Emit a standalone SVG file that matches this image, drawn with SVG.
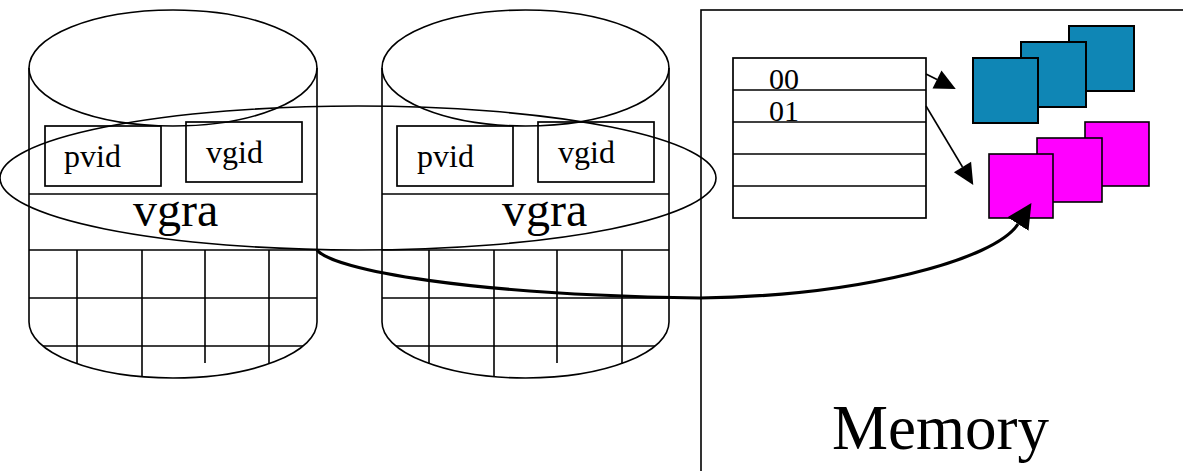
<svg xmlns="http://www.w3.org/2000/svg" width="1183" height="471" viewBox="0 0 1183 471">
  <style>
    .ln { fill: none; stroke: #000; stroke-width: 1.6; }
    .box { fill: none; stroke: #000; stroke-width: 1.7; }
    .txt { font-family: "Liberation Serif", "Times New Roman", serif; fill: #000; }
    .sm { font-size: 32px; }
    .num { font-size: 30px; }
    .lg { font-size: 48px; }
    .blue { fill: #0f86b5; stroke: #000; stroke-width: 2; }
    .pink { fill: #ff00ff; stroke: #000; stroke-width: 1.6; }
    .thick { fill: none; stroke: #000; stroke-width: 3.2; }
  </style>
  <defs>
    <marker id="head" markerUnits="userSpaceOnUse" markerWidth="24" markerHeight="22" viewBox="0 -11 22 22" refX="0" refY="0" orient="auto">
      <path d="M0,-10 L21,0 L0,10 z" fill="#000"/>
    </marker>
    <marker id="headBig" markerUnits="userSpaceOnUse" markerWidth="26" markerHeight="26" viewBox="0 -12 24 24" refX="0" refY="0" orient="auto">
      <path d="M0,-11.5 L23,0 L0,11.5 z" fill="#000"/>
    </marker>
  </defs>

  <!-- Memory area -->
  <g id="memory">
    <rect x="701" y="10" width="520" height="500" class="ln"/>
    <text x="832" y="449" class="txt" font-size="63">Memory</text>
  </g>

  <!-- Physical volume 1 -->
  <g id="disk1">
    <path class="ln" d="M29,68 L29,322 A144,56 0 0 0 317,322 L317,68"/>
    <ellipse class="ln" cx="173" cy="68" rx="144" ry="58"/>
    <line class="ln" x1="29" y1="194" x2="317" y2="194"/>
    <line class="ln" x1="29" y1="250" x2="317" y2="250"/>
    <line class="ln" x1="29" y1="298" x2="317" y2="298"/>
    <line class="ln" x1="43" y1="346" x2="303" y2="346"/>
    <line class="ln" x1="77" y1="250" x2="77" y2="364"/>
    <line class="ln" x1="142" y1="250" x2="142" y2="377"/>
    <line class="ln" x1="205" y1="250" x2="205" y2="363"/>
    <line class="ln" x1="269" y1="250" x2="269" y2="364"/>
    <rect class="box" x="45" y="126" width="116" height="60"/>
    <rect class="box" x="186" y="122" width="116" height="60"/>
    <text x="64" y="167" class="txt sm">pvid</text>
    <text x="206" y="163" class="txt sm">vgid</text>
    <text x="133" y="226" class="txt lg">vgra</text>
  </g>

  <!-- Physical volume 2 -->
  <g id="disk2">
    <path class="ln" d="M382,68 L382,322 A143.5,56 0 0 0 669,322 L669,68"/>
    <ellipse class="ln" cx="525.5" cy="68" rx="143.5" ry="58"/>
    <line class="ln" x1="382" y1="194" x2="669" y2="194"/>
    <line class="ln" x1="382" y1="250" x2="669" y2="250"/>
    <line class="ln" x1="382" y1="298" x2="669" y2="298"/>
    <line class="ln" x1="396" y1="346" x2="655" y2="346"/>
    <line class="ln" x1="429" y1="250" x2="429" y2="364"/>
    <line class="ln" x1="494" y1="250" x2="494" y2="377"/>
    <line class="ln" x1="557" y1="250" x2="557" y2="363"/>
    <line class="ln" x1="622" y1="250" x2="622" y2="364"/>
    <rect class="box" x="397" y="126" width="116" height="60"/>
    <rect class="box" x="538" y="122" width="116" height="60"/>
    <text x="417" y="167" class="txt sm">pvid</text>
    <text x="558" y="163" class="txt sm">vgid</text>
    <text x="502" y="226" class="txt lg">vgra</text>
  </g>

  <!-- Volume group boundary -->
  <g id="volume-group">
    <ellipse class="ln" cx="358" cy="178" rx="358" ry="72"/>
  </g>

  <!-- Lookup table in memory -->
  <g id="table">
    <rect class="box" x="733" y="58" width="193" height="160"/>
    <line class="box" x1="733" y1="90" x2="926" y2="90"/>
    <line class="box" x1="733" y1="122" x2="926" y2="122"/>
    <line class="box" x1="733" y1="154" x2="926" y2="154"/>
    <line class="box" x1="733" y1="186" x2="926" y2="186"/>
    <text x="769" y="89" class="txt num">00</text>
    <text x="769" y="121" class="txt num">01</text>
  </g>

  <!-- Blue extent stack -->
  <g id="blue-stack">
    <rect class="blue" x="1069" y="26" width="65" height="65"/>
    <rect class="blue" x="1021" y="42" width="65" height="65"/>
    <rect class="blue" x="973" y="58" width="65" height="65"/>
  </g>

  <!-- Magenta extent stack -->
  <g id="pink-stack">
    <rect class="pink" x="1085" y="122" width="64" height="64"/>
    <rect class="pink" x="1037" y="138" width="65" height="64"/>
    <rect class="pink" x="989" y="154" width="64" height="64"/>
  </g>

  <!-- Connectors -->
  <g id="connectors">
    <line class="ln" x1="926" y1="74" x2="937" y2="79.5" marker-end="url(#head)"/>
    <line class="ln" x1="926" y1="106" x2="962.5" y2="167" marker-end="url(#head)"/>
    <path class="thick" d="M317,250 C333,270 470,295 700,298 C860,296 995,260 1018,224" marker-end="url(#headBig)"/>
  </g>
</svg>
